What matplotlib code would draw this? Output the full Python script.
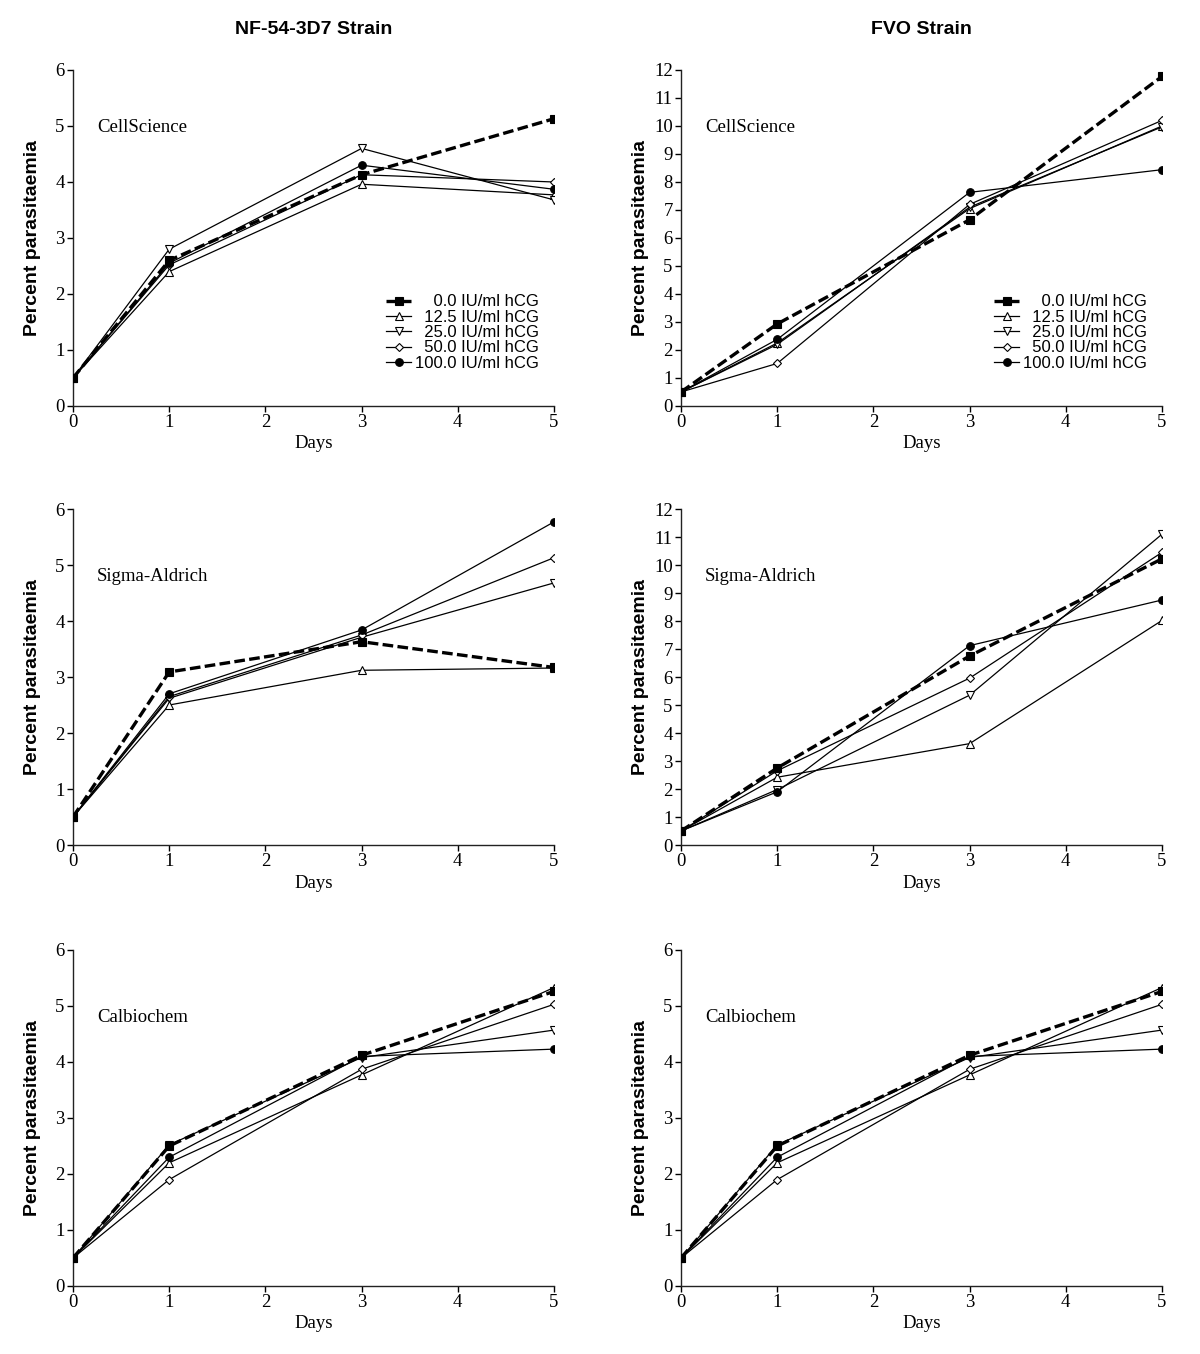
import matplotlib
matplotlib.use("Agg")
import matplotlib.pyplot as plt

days = [0, 1, 3, 5]
doses = ["0.0", "12.5", "25.0", "50.0", "100.0"]
strains = ["NF-54-3D7 Strain", "FVO Strain"]
suppliers = ["CellScience", "Sigma-Aldrich", "Calbiochem"]

# NF-54-3D7 strain
nf_cellscience_0 = [0.5, 2.60, 4.13, 5.13]
nf_cellscience_12 = [0.5, 2.40, 3.96, 3.77]
nf_cellscience_25 = [0.5, 2.80, 4.60, 3.68]
nf_cellscience_50 = [0.5, 2.52, 4.13, 4.00]
nf_cellscience_100 = [0.5, 2.55, 4.30, 3.87]

nf_sigma_0 = [0.5, 3.09, 3.63, 3.17]
nf_sigma_12 = [0.5, 2.50, 3.12, 3.16]
nf_sigma_25 = [0.5, 2.62, 3.71, 4.68]
nf_sigma_50 = [0.5, 2.65, 3.75, 5.13]
nf_sigma_100 = [0.5, 2.70, 3.84, 5.77]

nf_calbio_0 = [0.5, 2.50, 4.12, 5.26]
nf_calbio_12 = [0.5, 2.20, 3.77, 5.33]
nf_calbio_25 = [0.5, 2.52, 4.08, 4.57]
nf_calbio_50 = [0.5, 1.90, 3.87, 5.03]
nf_calbio_100 = [0.5, 2.30, 4.10, 4.23]

# FVO strain
fvo_cellscience_0 = [0.5, 2.93, 6.65, 11.77]
fvo_cellscience_12 = [0.5, 2.25, 7.05, 10.00]
fvo_cellscience_25 = [0.5, 2.20, 7.10, 9.97]
fvo_cellscience_50 = [0.5, 1.52, 7.20, 10.20]
fvo_cellscience_100 = [0.5, 2.38, 7.63, 8.44]

fvo_sigma_0 = [0.5, 2.75, 6.75, 10.22]
fvo_sigma_12 = [0.5, 2.42, 3.62, 8.02]
fvo_sigma_25 = [0.5, 1.98, 5.35, 11.10]
fvo_sigma_50 = [0.5, 2.65, 5.96, 10.45]
fvo_sigma_100 = [0.5, 1.90, 7.12, 8.75]

fvo_calbio_0 = [0.5, 2.50, 4.12, 5.26]
fvo_calbio_12 = [0.5, 2.20, 3.77, 5.33]
fvo_calbio_25 = [0.5, 2.52, 4.08, 4.57]
fvo_calbio_50 = [0.5, 1.90, 3.87, 5.03]
fvo_calbio_100 = [0.5, 2.30, 4.10, 4.23]

panels = [
    [[nf_cellscience_0, nf_cellscience_12, nf_cellscience_25, nf_cellscience_50, nf_cellscience_100],
     [fvo_cellscience_0, fvo_cellscience_12, fvo_cellscience_25, fvo_cellscience_50, fvo_cellscience_100]],
    [[nf_sigma_0, nf_sigma_12, nf_sigma_25, nf_sigma_50, nf_sigma_100],
     [fvo_sigma_0, fvo_sigma_12, fvo_sigma_25, fvo_sigma_50, fvo_sigma_100]],
    [[nf_calbio_0, nf_calbio_12, nf_calbio_25, nf_calbio_50, nf_calbio_100],
     [fvo_calbio_0, fvo_calbio_12, fvo_calbio_25, fvo_calbio_50, fvo_calbio_100]],
]
ymax = [[6, 12], [6, 12], [6, 6]]

SERIF = ["Liberation Serif", "DejaVu Serif"]
SANS = ["Liberation Sans", "DejaVu Sans"]

styles = [
    dict(marker="s", ls=(0, (3.2, 1.3)), lw=2.4, mfc="black", ms=5.5, zorder=5),
    dict(marker="^", ls="-", lw=0.9, mfc="white", ms=5.5, zorder=3),
    dict(marker="v", ls="-", lw=0.9, mfc="white", ms=5.5, zorder=3),
    dict(marker="D", ls="-", lw=0.9, mfc="white", ms=4.0, zorder=3),
    dict(marker="o", ls="-", lw=0.9, mfc="black", ms=5.5, zorder=4),
]
FS = "\u2007"
legend_labels = [FS * 2 + "0.0 IU/ml hCG", FS + "12.5 IU/ml hCG", FS + "25.0 IU/ml hCG",
                 FS + "50.0 IU/ml hCG", "100.0 IU/ml hCG"]

fig = plt.figure(figsize=(12, 13.54), dpi=100)
W, H = 1200, 1354
lefts = [73, 681]
width = 481
tops = [70, 509, 950]
height = 336

for r in range(3):
    for c in range(2):
        ax = fig.add_axes([lefts[c] / W, 1 - (tops[r] + height) / H, width / W, height / H])
        for k, series in enumerate(panels[r][c]):
            st = styles[k]
            ax.plot(days, series, color="black", mec="black", mew=0.8,
                    label=legend_labels[k], **st)
        ax.set_xlim(0, 5)
        ax.set_ylim(0, ymax[r][c])
        ax.set_xticks(range(6))
        ax.set_yticks(range(ymax[r][c] + 1))
        for s in ["top", "right"]:
            ax.spines[s].set_visible(False)
        for s in ["left", "bottom"]:
            ax.spines[s].set_linewidth(1.0)
            ax.spines[s].set_color("#222222")
        ax.tick_params(direction="out", length=4, width=1, pad=2, labelsize=13.5)
        for lab in ax.get_xticklabels() + ax.get_yticklabels():
            lab.set_family(SERIF)
        ax.set_xlabel("Days", family=SERIF, fontsize=13.5, labelpad=3)
        ax.set_ylabel("Percent parasitaemia", family=SANS, fontsize=14,
                      fontweight="bold")
        ax.yaxis.set_label_coords(-0.066, 0.5)
        ax.text(0.05, 0.83 if r == 0 else 0.8, suppliers[r], transform=ax.transAxes,
                family=SERIF, fontsize=13.5, ha="left", va="center")
        if r == 0:
            ax.set_title(strains[c], family=SANS, fontsize=14, fontweight="bold", pad=26)
            ax.legend(loc="lower right", bbox_to_anchor=(0.99, 0.075), frameon=False,
                      prop=dict(family=SANS, size=12), handlelength=1.5,
                      handletextpad=0.25, labelspacing=0.02, borderpad=0.1)

fig.savefig("out.png", dpi=100)
